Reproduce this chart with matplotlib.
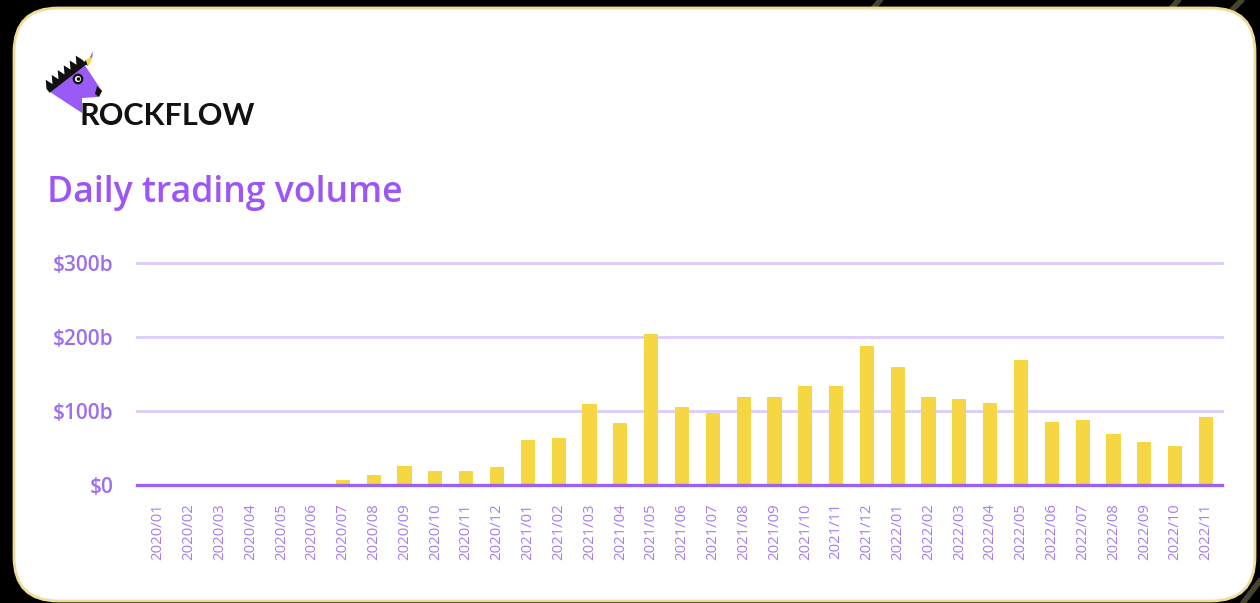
import matplotlib.pyplot as plt
from matplotlib.patches import FancyBboxPatch, Polygon, Circle
import numpy as np

# Дані графіка, млрд доларів
months = [
    "2020/01", "2020/02", "2020/03", "2020/04", "2020/05", "2020/06",
    "2020/07", "2020/08", "2020/09", "2020/10", "2020/11", "2020/12",
    "2021/01", "2021/02", "2021/03", "2021/04", "2021/05", "2021/06",
    "2021/07", "2021/08", "2021/09", "2021/10", "2021/11", "2021/12",
    "2022/01", "2022/02", "2022/03", "2022/04", "2022/05", "2022/06",
    "2022/07", "2022/08", "2022/09", "2022/10", "2022/11",
]
volume = [
    0, 0, 0, 0, 0, 0,
    7, 14, 26, 19, 19, 24,
    61, 64, 109, 84, 204, 105,
    97, 119, 119, 134, 134, 188,
    159, 119, 116, 111, 169, 85,
    88, 69, 58, 53, 92,
]
y_ticks = [0, 100, 200, 300]
y_tick_labels = ["$0", "$100b", "$200b", "$300b"]

W, H = 1260, 603
PURPLE = "#9d55f7"
TICK_PURPLE = "#9c6fee"
GRID = "#dccbfb"
BASE = "#9a62f4"
BAR = "#f6d743"

fig = plt.figure(figsize=(W / 100, H / 100), dpi=100, facecolor="black")

# Фон і картка (у піксельних координатах)
bg = fig.add_axes([0, 0, 1, 1])
bg.set_xlim(0, W)
bg.set_ylim(H, 0)
bg.axis("off")

for x0, y0, x1, y1 in [(868, 14, 884, -4), (1166, 14, 1184, -6),
                       (1226, 16, 1248, -6), (1236, 612, 1262, 578)]:
    bg.plot([x0, x1], [y0, y1], color="#47432f", lw=4, solid_capstyle="butt", zorder=0)

card = FancyBboxPatch((14 + 44, 8 + 44), W - 14 - 5 - 88, H - 8 - 2 - 88,
                      boxstyle="round,pad=44", facecolor="white",
                      edgecolor="#efdb98", linewidth=2, zorder=1)
bg.add_patch(card)

# Логотип (єдиноріг)
body = Polygon([(50, 92), (84, 64), (102, 91), (98, 97), (82, 98), (82, 113)],
               closed=True, facecolor="#9a5af6", edgecolor="none", zorder=2)
bg.add_patch(body)
a = np.array([49.0, 92.0])
b = np.array([85.0, 63.0])
d = b - a
u = np.array([d[1], -d[0]]) / np.hypot(*d)   # назовні (вгору-ліворуч)
n_sp = 6
mane_pts = [tuple(a - u * 1)]
for i in range(n_sp):
    p = a + d * i / n_sp
    mane_pts.append(tuple(p + u * 4))
    mane_pts.append(tuple(p + d * (0.5 / n_sp) + u * 10 + np.array([0, -2])))
mane_pts.append(tuple(b + u * 4))
mane_pts.append(tuple(b - u * 2))
bg.add_patch(Polygon(mane_pts, closed=True, facecolor="#111111", edgecolor="none", zorder=3))
bg.add_patch(Polygon([(83, 63), (86, 60), (88, 66)], closed=True,
                     facecolor="#111111", edgecolor="none", zorder=3))
bg.add_patch(Polygon([(86, 60), (90, 57), (93, 54), (91, 62), (88, 66)], closed=True,
                     facecolor="#f1d94a", edgecolor="none", zorder=3))
bg.add_patch(Polygon([(90, 57), (93, 51), (92, 58)], closed=True,
                     facecolor="#9a5af6", edgecolor="none", zorder=3))
bg.add_patch(Polygon([(97, 86), (102, 91), (99, 97), (95, 94)], closed=True,
                     facecolor="#111111", edgecolor="none", zorder=3))
bg.add_patch(Circle((78, 79), 4.2, facecolor="white", edgecolor="#111111", lw=1.6, zorder=3))
bg.add_patch(Circle((78.5, 79), 1.8, facecolor="#111111", zorder=4))
bg.text(80, 125, "ROCKFLOW", fontsize=22, fontfamily="Lato", fontweight="bold",
        color="#111111", ha="left", va="baseline", zorder=4)

# Заголовок
bg.text(47, 202, "Daily trading volume", fontsize=25.7, fontfamily="Open Sans",
        fontweight="semibold", color=PURPLE, ha="left", va="baseline", zorder=4)

# Основний графік
left, right, top, bottom = 137, 1222, 263, 485
ax = fig.add_axes([left / W, 1 - bottom / H, (right - left) / W, (bottom - top) / H])
ax.set_facecolor("none")
x = np.arange(len(months))
ax.bar(x, volume, width=0.46, color=BAR, zorder=2)
ax.set_xlim(-0.68, len(months) - 0.48)
ax.set_ylim(0, 300)
ax.set_yticks(y_ticks)
ax.set_yticklabels(y_tick_labels)
ax.set_xticks(x)
ax.set_xticklabels(months, rotation=90)
ax.grid(True, axis="y", color=GRID, linewidth=2, zorder=1)
for gl in ax.get_ygridlines():
    gl.set_clip_on(False)
for s in ["top", "right", "left"]:
    ax.spines[s].set_visible(False)
ax.spines["bottom"].set_color(BASE)
ax.spines["bottom"].set_linewidth(2.4)
ax.spines["bottom"].set_zorder(3)
ax.tick_params(axis="y", length=0, pad=17, labelsize=15, labelcolor=TICK_PURPLE)
ax.tick_params(axis="x", length=0, pad=13, labelsize=10.7, labelcolor="#a57cf2")
for lbl in ax.get_yticklabels():
    lbl.set_fontfamily("Open Sans")
    lbl.set_fontweight("semibold")
for lbl in ax.get_xticklabels():
    lbl.set_fontfamily("Open Sans")
    lbl.set_fontweight("medium")

fig.savefig("out.png", dpi=100, facecolor="black")
